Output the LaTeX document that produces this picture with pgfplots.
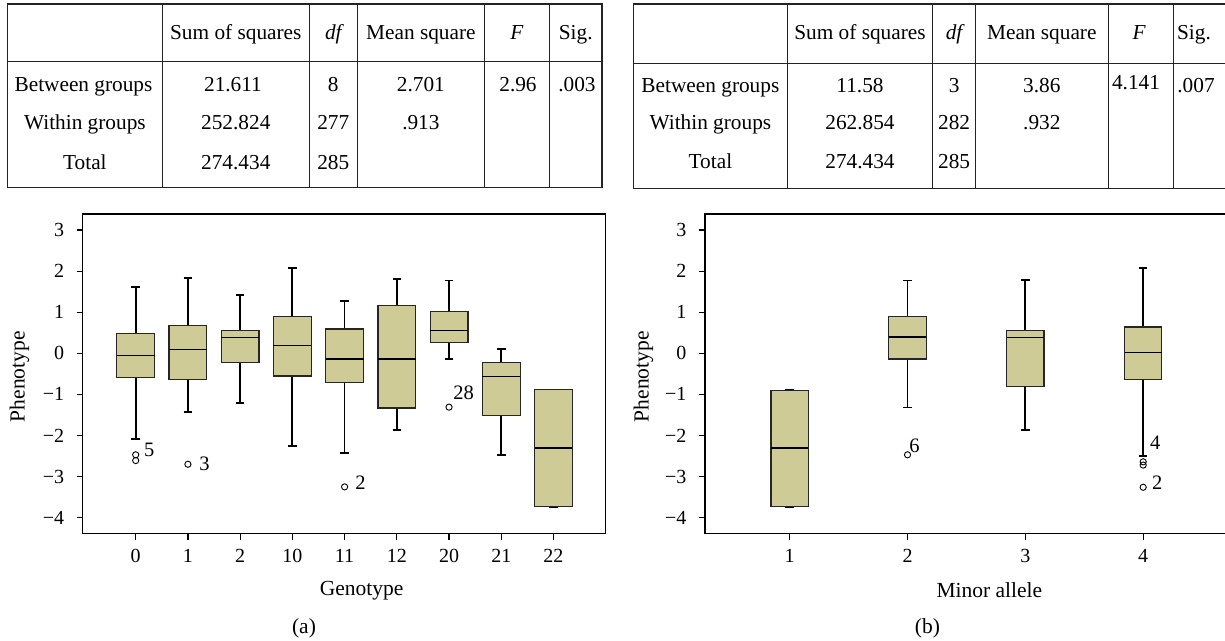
\documentclass[border=0pt]{standalone}
\usepackage{pgfplots}
\pgfplotsset{compat=1.18}
\usepgfplotslibrary{statistics}
\usepackage{fontspec}
\setmainfont{Liberation Serif}
\definecolor{boxfill}{RGB}{206,203,150}
\definecolor{tline}{RGB}{35,35,35}
\newcommand{\tf}{\fontsize{21.3}{23}\selectfont}
\newcommand{\lf}{\fontsize{21.5}{23}\selectfont}
\newcommand{\of}{\fontsize{20.5}{22}\selectfont}

\pgfplotsset{
  phen/.style={
    scale only axis, width=523pt, height=319.7pt, anchor=south west,
    ymin=-4.39, ymax=3.39,
    ytick={-4,-3,-2,-1,0,1,2,3},
    yticklabels={−4,−3,−2,−1,0,1,2,3},
    tick align=outside, tick pos=left, major tick length=6pt,
    tick style={black, line width=1.2pt},
    axis line style={black, line width=1.5pt},
    tick label style={font=\fontsize{20}{22}\selectfont},
    xticklabel style={yshift=-6pt},
    yticklabel style={xshift=-9pt},
    boxplot/draw direction=y,
    boxplot/every box/.style={draw=black!85, fill=boxfill, line width=1.2pt},
    boxplot/every whisker/.style={black, line width=1.8pt},
    boxplot/every median/.style={black, line width=1.5pt},
  },
  outl/.style={only marks, mark=o, mark size=3.1pt, mark options={black, line width=0.9pt}},
}

\begin{document}
\begin{tikzpicture}
\useasboundingbox (0pt,0pt) rectangle (1225pt,640pt);
\clip (0pt,0pt) rectangle (1225pt,640pt);

\begin{scope}[x=1pt,y=1pt, tl/.style={draw=tline, line width=1.2pt}, tt/.style={anchor=base, font=\tf, inner sep=0pt}]
% ---------- table (a)
\draw[tl] (7.3,636) rectangle (602,452.7);
\draw[tl] (7.3,578.3) -- (602,578.3);
\foreach \xx in {162.5,309.5,357.5,484.5,549.5} \draw[tl] (\xx,636) -- (\xx,452.7);
\node[tt] at (235.8,600.7) {Sum of squares};
\node[tt] at (333.3,600.7) {\itshape df};
\node[tt] at (420.9,600.7) {Mean square};
\node[tt] at (516.8,600.7) {\itshape F};
\node[tt] at (575.7,600.7) {Sig.};
\node[tt] at (83.5,548.3) {Between groups};
\node[tt] at (84.9,510) {Within groups};
\node[tt] at (84.9,470.7) {Total};
\node[tt] at (233,548.3) {21.611};
\node[tt] at (235.8,510) {252.824};
\node[tt] at (235.8,470.7) {274.434};
\node[tt] at (333.3,548.3) {8};
\node[tt] at (333.3,510) {277};
\node[tt] at (333.3,470.7) {285};
\node[tt] at (420.9,548.3) {2.701};
\node[tt] at (420.9,510) {.913};
\node[tt] at (518,548.3) {2.96};
\node[tt] at (577,548.3) {.003};
% ---------- table (b)
\draw[tl] (633.5,636) rectangle (1227,451.7);
\draw[tl] (633.5,576.7) -- (1227,576.7);
\foreach \xx in {787.5,932.5,975.5,1108.5,1173.5} \draw[tl] (\xx,636) -- (\xx,451.7);
\node[tt] at (860,600) {Sum of squares};
\node[tt] at (954.1,600) {\itshape df};
\node[tt] at (1041.8,600) {Mean square};
\node[tt] at (1139,600) {\itshape F};
\node[tt] at (1194,600) {Sig.};
\node[tt] at (710.4,547.3) {Between groups};
\node[tt] at (710.4,510) {Within groups};
\node[tt] at (710.4,471.7) {Total};
\node[tt] at (860,547.3) {11.58};
\node[tt] at (860,510) {262.854};
\node[tt] at (860,471.7) {274.434};
\node[tt] at (954.1,547.3) {3};
\node[tt] at (954.1,510) {282};
\node[tt] at (954.1,471.7) {285};
\node[tt] at (1041.8,547.3) {3.86};
\node[tt] at (1041.8,510) {.932};
\node[tt] at (1136,550.3) {4.141};
\node[tt] at (1196,547.3) {.007};
% ---------- labels
\node[font=\lf, rotate=90] at (19.5,263.3) {Phenotype};
\node[font=\lf, rotate=90] at (643.4,263.3) {Phenotype};
\node[font=\lf] at (361.6,49) {Genotype};
\node[font=\lf] at (989.4,49.5) {Minor allele};
\node[font=\lf] at (304,12) {(a)};
\node[font=\lf] at (927.4,12) {(b)};
\end{scope}

% ---------- plot (a)
\begin{axis}[phen, at={(82.7pt,106.3pt)}, xmin=-1.015, xmax=9.0,
  xtick={0,1,2,3,4,5,6,7,8}, xticklabels={0,1,2,10,11,12,20,21,22},
  boxplot/box extend=0.724, boxplot/whisker extend=0.165]
\addplot[boxplot prepared={draw position=0, lower whisker=-2.09, lower quartile=-0.59, median=-0.05, upper quartile=0.49, upper whisker=1.62}] coordinates {};
\addplot[boxplot prepared={draw position=1, lower whisker=-1.43, lower quartile=-0.64, median=0.09, upper quartile=0.67, upper whisker=1.84}] coordinates {};
\addplot[boxplot prepared={draw position=2, lower whisker=-1.20, lower quartile=-0.22, median=0.39, upper quartile=0.56, upper whisker=1.42}] coordinates {};
\addplot[boxplot prepared={draw position=3, lower whisker=-2.26, lower quartile=-0.55, median=0.19, upper quartile=0.90, upper whisker=2.08}] coordinates {};
\addplot[boxplot prepared={draw position=4, lower whisker=-2.43, lower quartile=-0.71, median=-0.14, upper quartile=0.59, upper whisker=1.28}] coordinates {};
\addplot[boxplot prepared={draw position=5, lower whisker=-1.86, lower quartile=-1.33, median=-0.14, upper quartile=1.16, upper whisker=1.80}] coordinates {};
\addplot[boxplot prepared={draw position=6, lower whisker=-0.14, lower quartile=0.26, median=0.55, upper quartile=1.01, upper whisker=1.77}] coordinates {};
\addplot[boxplot prepared={draw position=7, lower whisker=-2.47, lower quartile=-1.51, median=-0.57, upper quartile=-0.23, upper whisker=0.10}] coordinates {};
\addplot[boxplot prepared={draw position=8, lower whisker=-3.74, lower quartile=-3.72, median=-2.30, upper quartile=-0.89, upper whisker=-0.88}] coordinates {};
\addplot[outl] coordinates {(0,-2.47) (0,-2.61) (1,-2.70) (4,-3.25) (6,-1.31)};
\node[font=\of] at ([xshift=13.6pt]axis cs:0,-2.35) {5};
\node[font=\of] at ([xshift=16.5pt]axis cs:1,-2.68) {3};
\node[font=\of] at ([xshift=16pt]axis cs:4,-3.15) {2};
\node[font=\of] at ([xshift=14.5pt]axis cs:6,-0.95) {28};
\end{axis}

% ---------- plot (b)
\begin{axis}[phen, at={(705pt,106.3pt)}, xmin=0.281, xmax=4.72,
  xtick={1,2,3,4}, xticklabels={1,2,3,4},
  boxplot/box extend=0.317, boxplot/whisker extend=0.073]
\addplot[boxplot prepared={draw position=1, lower whisker=-3.74, lower quartile=-3.72, median=-2.31, upper quartile=-0.90, upper whisker=-0.88}] coordinates {};
\addplot[boxplot prepared={draw position=2, lower whisker=-1.32, lower quartile=-0.14, median=0.40, upper quartile=0.89, upper whisker=1.77}] coordinates {};
\addplot[boxplot prepared={draw position=3, lower whisker=-1.87, lower quartile=-0.81, median=0.38, upper quartile=0.55, upper whisker=1.78}] coordinates {};
\addplot[boxplot prepared={draw position=4, lower whisker=-2.49, lower quartile=-0.63, median=0.02, upper quartile=0.64, upper whisker=2.08}] coordinates {};
\addplot[outl] coordinates {(2,-2.47) (4,-2.64) (4,-2.72) (4,-3.26)};
\node[font=\of] at ([xshift=7pt]axis cs:2,-2.26) {6};
\node[font=\of] at ([xshift=12pt]axis cs:4,-2.17) {4};
\node[font=\of] at ([xshift=14pt]axis cs:4,-3.16) {2};
\end{axis}
\end{tikzpicture}
\end{document}
